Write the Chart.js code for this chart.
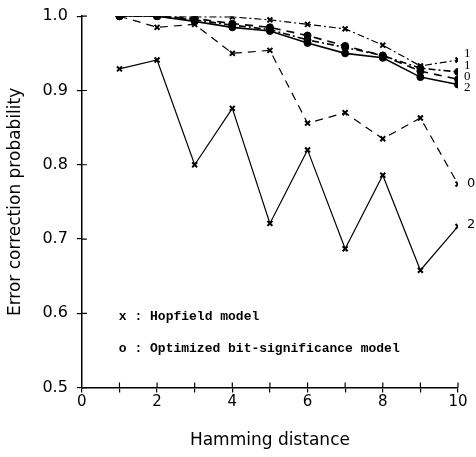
<!DOCTYPE html>
<html>
<head>
<meta charset="utf-8">
<script src="https://cdn.jsdelivr.net/npm/chart.js@4/dist/chart.umd.min.js"></script>
<style>
  body { margin: 0; background: #fff; }
</style>
</head>
<body>
<canvas id="chart" width="476" height="457"></canvas>
<script>
// hamming distance on the x axis
const distances = [1, 2, 3, 4, 5, 6, 7, 8, 9, 10];

// Hopfield model (x markers), curves 0, 1, 2
const hopfield0 = [1.0, 0.985, 0.989, 0.950, 0.954, 0.856, 0.870, 0.835, 0.863, 0.774];
const hopfield1 = [1.0, 1.0, 0.999, 0.999, 0.995, 0.989, 0.983, 0.961, 0.933, 0.941];
const hopfield2 = [0.929, 0.941, 0.800, 0.876, 0.721, 0.820, 0.687, 0.786, 0.658, 0.717];

// optimized bit-significance model (o markers), curves 0, 1, 2
const optimized0 = [1.0, 1.0, 0.997, 0.990, 0.985, 0.974, 0.960, 0.947, 0.926, 0.915];
const optimized1 = [1.0, 1.0, 0.995, 0.988, 0.982, 0.968, 0.958, 0.947, 0.930, 0.925];
const optimized2 = [1.0, 1.0, 0.993, 0.985, 0.980, 0.964, 0.950, 0.944, 0.918, 0.908];

const yTicks = [0.5, 0.6, 0.7, 0.8, 0.9, 1.0];
const xTickLabels = [0, 2, 4, 6, 8, 10];

const dashed = [8, 6];
const dashDot = [7, 3, 2, 3];

function series(values, marker, dash, width, endLabel, endDx, endDy, endFont) {
  return {
    data: values.map((v, i) => ({ x: distances[i], y: v })),
    borderColor: '#000',
    backgroundColor: '#000',
    borderWidth: width,
    borderDash: dash,
    pointStyle: marker,
    pointRadius: 3.5,
    pointBorderWidth: marker === 'circle' ? 1 : 2,
    tension: 0,
    endLabel, endDx, endDy, endFont
  };
}

// inward tick marks, curve end labels and the marker key
const annotations = {
  id: 'annotations',
  afterDatasetsDraw(chart) {
    const ctx = chart.ctx;
    const xs = chart.scales.x, ys = chart.scales.y;
    const area = chart.chartArea;
    ctx.save();
    ctx.strokeStyle = '#000';
    ctx.lineWidth = 1.2;
    ctx.beginPath();
    distances.forEach(d => {
      const px = xs.getPixelForValue(d);
      ctx.moveTo(px, area.bottom);
      ctx.lineTo(px, area.bottom - 5);
    });
    yTicks.forEach(t => {
      const py = ys.getPixelForValue(t);
      ctx.moveTo(area.left, py);
      ctx.lineTo(area.left + 5, py);
    });
    ctx.stroke();

    ctx.fillStyle = '#000';
    ctx.textBaseline = 'middle';
    ctx.textAlign = 'left';
    chart.data.datasets.forEach((ds, i) => {
      const pts = chart.getDatasetMeta(i).data;
      const last = pts[pts.length - 1];
      ctx.font = ds.endFont;
      ctx.fillText(ds.endLabel, last.x + ds.endDx, last.y + ds.endDy);
    });

    ctx.font = 'bold 13px "Liberation Mono"';
    ctx.fillText('x : Hopfield model', area.left + 37, area.top + 301);
    ctx.fillText('o : Optimized bit-significance model', area.left + 37, area.top + 333);
    ctx.restore();
  }
};

new Chart(document.getElementById('chart'), {
  type: 'line',
  data: {
    datasets: [
      series(hopfield0, 'crossRot', dashed, 1.2, '0', 9, 0, '13px "DejaVu Sans"'),
      series(hopfield1, 'crossRot', dashDot, 1.2, '1', 6, -6, '13px "Liberation Serif"'),
      series(hopfield2, 'crossRot', [], 1.2, '2', 9, -2, '13px "DejaVu Sans"'),
      series(optimized0, 'circle', dashed, 1.6, '0', 6, -3, '13px "Liberation Serif"'),
      series(optimized1, 'circle', dashDot, 1.6, '1', 6, -6, '13px "Liberation Serif"'),
      series(optimized2, 'circle', [], 1.6, '2', 6, 3, '13px "Liberation Serif"')
    ]
  },
  options: {
    responsive: false,
    animation: false,
    layout: { padding: { top: 2, right: 18, left: 5, bottom: 6 } },
    plugins: {
      legend: { display: false },
      tooltip: { enabled: false }
    },
    scales: {
      x: {
        type: 'linear',
        min: 0,
        max: 10,
        border: { color: '#000', width: 1.5 },
        grid: { drawOnChartArea: false, color: '#000', tickLength: 5, lineWidth: 1.2 },
        ticks: {
          stepSize: 1,
          color: '#000',
          font: { family: 'DejaVu Sans', size: 15 },
          padding: 1,
          maxRotation: 0,
          autoSkip: false,
          callback: v => xTickLabels.includes(v) ? String(v) : ''
        },
        title: {
          display: true,
          text: 'Hamming distance',
          color: '#000',
          font: { family: 'DejaVu Sans', size: 17 },
          padding: { top: 18, bottom: 0 }
        }
      },
      y: {
        min: 0.5,
        max: 1.0,
        border: { color: '#000', width: 1.5 },
        grid: { drawOnChartArea: false, color: '#000', tickLength: 5, lineWidth: 1.2 },
        ticks: {
          stepSize: 0.1,
          color: '#000',
          font: { family: 'DejaVu Sans', size: 16, lineHeight: 0.9 },
          padding: 9,
          callback: v => yTicks.some(t => Math.abs(t - v) < 1e-6) ? v.toFixed(1) : ''
        },
        title: {
          display: true,
          text: 'Error correction probability',
          color: '#000',
          font: { family: 'DejaVu Sans', size: 17 },
          padding: { top: 0, bottom: 8 }
        }
      }
    }
  },
  plugins: [annotations]
});
</script>
</body>
</html>
